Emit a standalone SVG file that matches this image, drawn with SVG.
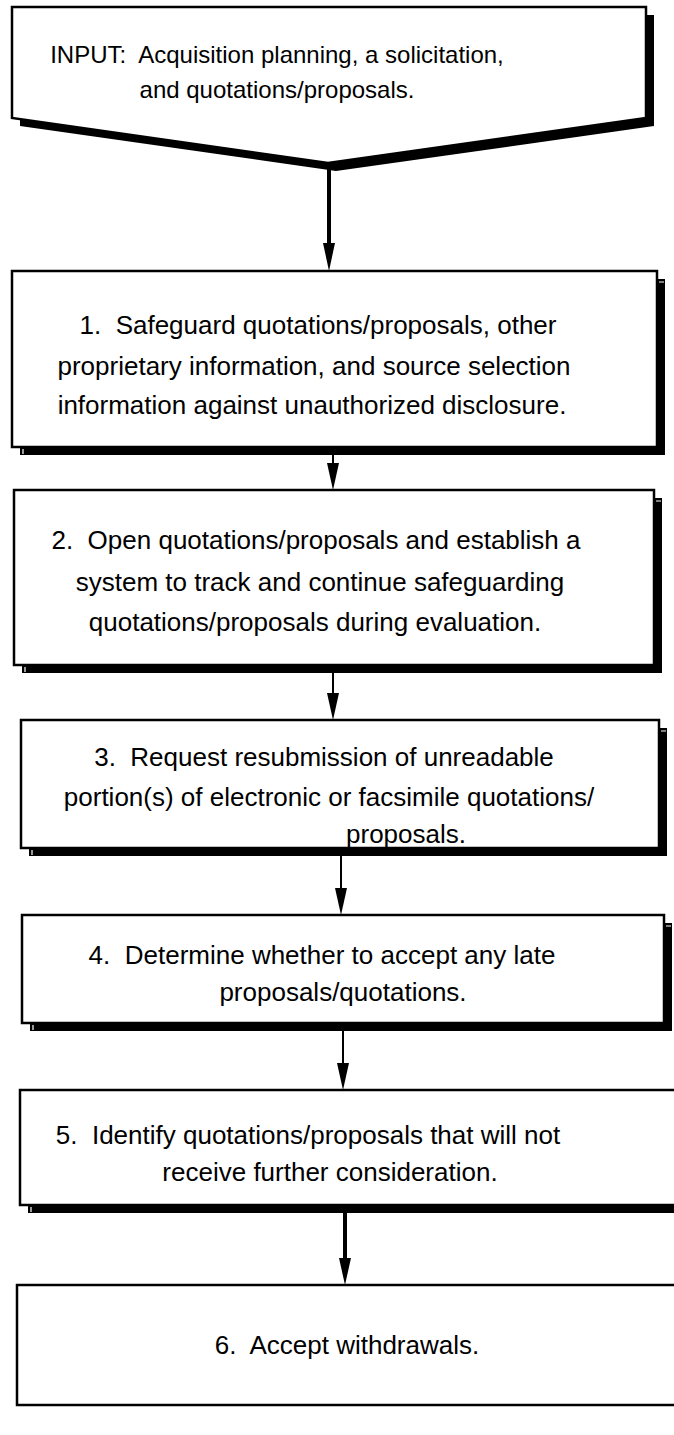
<svg xmlns="http://www.w3.org/2000/svg" width="674" height="1435" viewBox="0 0 674 1435">
<defs>
<style>
.box{fill:#fff;stroke:#000;stroke-width:2.5}
.sh{fill:#000;stroke:none}
.nick{stroke:#fff;stroke-width:1.2;fill:none}
.t{font-family:"Liberation Sans",Arial,Helvetica,sans-serif;font-size:26px;fill:#000;text-anchor:middle;white-space:pre}
.ti{font-family:"Liberation Sans",Arial,Helvetica,sans-serif;font-size:24px;fill:#000;text-anchor:middle;white-space:pre}
.thin{stroke:#000;stroke-width:2;fill:none}
.thick{stroke:#000;stroke-width:4;fill:none}
.ah{fill:#000;stroke:none}
</style>
</defs>
<rect width="674" height="1435" fill="#fff"/>

<g id="input">
<polygon class="sh" points="20,15 654,15 654,126 336,171 20,126"/>
<polygon class="box" points="12,7 646,7 646,118 328,163 12,118"/>
<text class="ti" x="277" y="63" xml:space="preserve">INPUT:  Acquisition planning, a solicitation,</text>
<text class="ti" x="277" y="98">and quotations/proposals.</text>
</g>

<g id="connectors">
<line class="thick" x1="329" y1="168" x2="329" y2="246"/>
<polygon class="ah" points="323,243 335,243 329,271"/>
<line class="thin" x1="333" y1="455" x2="333" y2="466"/>
<polygon class="ah" points="327,463 339,463 333,490"/>
<line class="thin" x1="333" y1="673" x2="333" y2="696"/>
<polygon class="ah" points="327,693 339,693 333,720"/>
<line class="thin" x1="341" y1="856" x2="341" y2="891"/>
<polygon class="ah" points="335,888 347,888 341,915"/>
<line class="thin" x1="343" y1="1031" x2="343" y2="1066"/>
<polygon class="ah" points="337,1063 349,1063 343,1090"/>
<line class="thick" x1="345" y1="1213" x2="345" y2="1261"/>
<polygon class="ah" points="339,1258 351,1258 345,1285"/>
</g>

<g id="step1">
<rect class="sh" x="20" y="279" width="645" height="176"/>
<path class="nick" d="M23,449 V454 M659,282 H664"/>
<rect class="box" x="12" y="271" width="645" height="176"/>
<text class="t" x="318" y="334" xml:space="preserve">1.  Safeguard quotations/proposals, other</text>
<text class="t" x="314" y="375">proprietary information, and source selection</text>
<text class="t" x="312" y="414">information against unauthorized disclosure.</text>
</g>

<g id="step2">
<rect class="sh" x="22" y="498" width="640" height="175"/>
<path class="nick" d="M25,667 V672 M656,501 H661"/>
<rect class="box" x="14" y="490" width="640" height="175"/>
<text class="t" x="316" y="549" xml:space="preserve">2.  Open quotations/proposals and establish a</text>
<text class="t" x="320" y="591">system to track and continue safeguarding</text>
<text class="t" x="315" y="631">quotations/proposals during evaluation.</text>
</g>

<g id="step3">
<rect class="sh" x="29" y="728" width="638" height="128"/>
<path class="nick" d="M32,850 V855 M661,731 H666"/>
<rect class="box" x="21" y="720" width="638" height="128"/>
<text class="t" x="324" y="766" xml:space="preserve">3.  Request resubmission of unreadable</text>
<text class="t" x="329" y="806">portion(s) of electronic or facsimile quotations/</text>
<text class="t" x="406" y="843">proposals.</text>
</g>

<g id="step4">
<rect class="sh" x="30" y="923" width="642" height="108"/>
<path class="nick" d="M33,1025 V1030 M666,926 H671"/>
<rect class="box" x="22" y="915" width="642" height="108"/>
<text class="t" x="322" y="964" xml:space="preserve">4.  Determine whether to accept any late</text>
<text class="t" x="343" y="1001">proposals/quotations.</text>
</g>

<g id="step5">
<rect class="sh" x="28" y="1098" width="660" height="115"/>
<path class="nick" d="M31,1207 V1212"/>
<rect class="box" x="20" y="1090" width="660" height="115"/>
<text class="t" x="308" y="1144" xml:space="preserve">5.  Identify quotations/proposals that will not</text>
<text class="t" x="330" y="1181">receive further consideration.</text>
</g>

<g id="step6">
<rect class="box" x="17" y="1285" width="664" height="120"/>
<text class="t" x="347" y="1354" xml:space="preserve">6.  Accept withdrawals.</text>
</g>
</svg>
